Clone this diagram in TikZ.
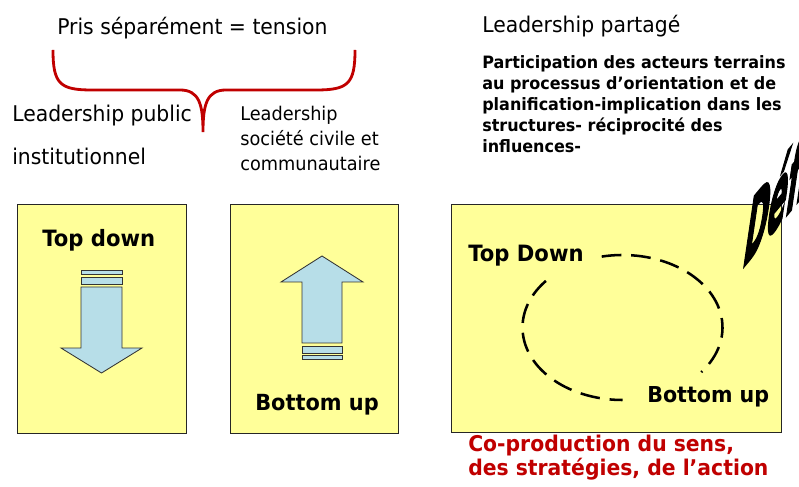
\documentclass[tikz,border=0pt]{standalone}
\usepackage{fontspec}
\setmainfont{DejaVu Sans}[FakeStretch=0.94]
\newfontfamily\wordartfont{DejaVu Sans}[FakeBold=4]
\definecolor{boxyellow}{RGB}{255,255,153}
\definecolor{arrowblue}{RGB}{183,222,232}
\definecolor{darkred}{RGB}{192,0,0}
\tikzset{
	slidebox/.style={draw=black!85, fill=boxyellow, line width=0.7pt},
	bluearrow/.style={draw=black!80, fill=arrowblue, line width=0.6pt},
	brace/.style={draw=darkred, line width=2pt},
	ring/.style={draw=black, line width=1.8pt, dash pattern=on 14pt off 7pt},
	plain/.style={anchor=base west, inner sep=0pt},
	block/.style={anchor=north west, inner sep=0pt, align=left},
}
\begin{document}
\begin{tikzpicture}[x=0.025cm, y=0.025cm]
	\useasboundingbox (0,0) rectangle (799,486);
	% top labels and brace
	\node[plain, font=\fontsize{15.4}{15.4}\selectfont] (tension) at (57,451) {Pris séparément = tension};
	\draw[brace] (53,436) .. controls (53,402) and (60,396) .. (92,396) -- (180,396)
		.. controls (199,396) and (203,382) .. (203,354)
		.. controls (203,382) and (207,396) .. (226,396) -- (316,396)
		.. controls (348,396) and (355,402) .. (355,436);
	\node[plain, font=\fontsize{15.4}{15.4}\selectfont] (public) at (12,364) {Leadership public};
	\node[plain, font=\fontsize{15.4}{15.4}\selectfont] (instit) at (12,321) {institutionnel};
	\node[block, font=\fontsize{13.4}{17.8}\selectfont] (civile) at (240,380) {Leadership\\société civile et\\communautaire};
	\node[plain, font=\fontsize{15.4}{15.4}\selectfont] (partage) at (482,453) {Leadership partagé};
	\node[block, font=\fontsize{12.1}{14.9}\selectfont\bfseries] (particip) at (482,431) {Participation des acteurs terrains\\au processus d’orientation et de\\planification-implication dans les\\structures- réciprocité des\\influences-};

	% box 1 : top down
	\draw[slidebox] (17,53) rectangle (186,282);
	\node[plain, font=\fontsize{16}{16}\selectfont\bfseries] (topdown) at (42,239) {Top down};
	\draw[bluearrow] (81,212) rectangle (122,216);
	\draw[bluearrow] (81,202) rectangle (122,209);
	\draw[bluearrow] (81,199) -- (122,199) -- (122,138) -- (142,138) -- (101.5,113) -- (61,138) -- (81,138) -- cycle;

	% box 2 : bottom up
	\draw[slidebox] (230,53) rectangle (398,282);
	\node[plain, font=\fontsize{15.8}{15.8}\selectfont\bfseries] (bottomup) at (255,76) {Bottom up};
	\draw[bluearrow] (302,143) -- (302,204) -- (281,204) -- (322,230) -- (363,204) -- (342,204) -- (342,143) -- cycle;
	\draw[bluearrow] (302,133) rectangle (342,140);
	\draw[bluearrow] (302,127) rectangle (342,131);

	% box 3 : shared
	\draw[slidebox] (451,54) rectangle (781,282);
	\node[plain, font=\fontsize{16}{16}\selectfont\bfseries] (topdown2) at (468,224) {Top Down};
	\node[plain, font=\fontsize{15.6}{15.6}\selectfont\bfseries] (bottomup2) at (647,84) {Bottom up};
	\draw[ring] (622.5,158.5) ++(140:100 and 72.5) arc[start angle=140, end angle=270, x radius=100, y radius=72.5];
	\draw[ring] (622.5,158.5) ++(102:100 and 72.5) arc[start angle=102, end angle=-38, x radius=100, y radius=72.5];
	\node[block, font=\fontsize{15.4}{16.6}\selectfont\bfseries, text=darkred] (coprod) at (468,51) {Co-production du sens,\\des stratégies, de l’action};

	% word art
	\begin{scope}[shift={(741,216)}, cm={1.0,1.2,0.5,3.4,(0,0)}]
		\node[plain, transform shape, font=\fontsize{20}{20}\wordartfont\bfseries] (defi) at (0,0) {Défi};
	\end{scope}
\end{tikzpicture}
\end{document}
